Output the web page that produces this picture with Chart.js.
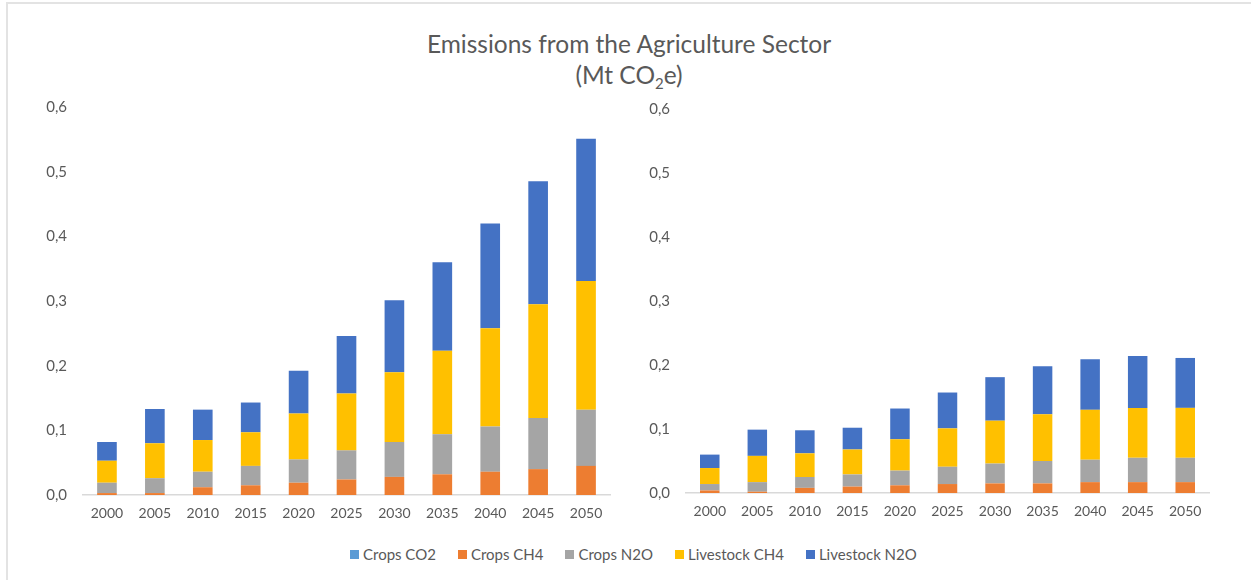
<!DOCTYPE html>
<html>
<head>
<meta charset="utf-8">
<script src="https://cdn.jsdelivr.net/npm/chart.js@4.4.1/dist/chart.umd.min.js"></script>
<style>
  html, body { margin: 0; padding: 0; background: #fff; }
  body { width: 1251px; height: 580px; position: relative; overflow: hidden; font-family: Lato, sans-serif; color: #595959; }
  #frame { position: absolute; left: 6px; top: 2px; width: 1260px; height: 600px; border-top: 2px solid #e3e3e3; border-left: 2px solid #e3e3e3; }
  #title { position: absolute; left: 0; width: 1258px; top: 28px; text-align: center; font-size: 24.5px; line-height: 31px; }
  #title sub { font-size: 15px; vertical-align: -5px; line-height: 0; }
  .box { position: absolute; width: 625px; }
  #legend { position: absolute; left: 350px; top: 545px; display: flex; font-size: 15px; white-space: nowrap; }
  #legend span.item { display: flex; align-items: center; margin-right: 22px; }
  #legend i { display: inline-block; width: 9px; height: 9px; margin-right: 4px; }
</style>
</head>
<body>
<div id="frame"></div>
<div id="title">Emissions from the Agriculture Sector<br>(Mt CO<sub>2</sub>e)</div>
<div class="box" style="left:0; top:82px; height:448px"><canvas id="leftChart"></canvas></div>
<div class="box" style="left:626px; top:84px; height:446px"><canvas id="rightChart"></canvas></div>
<div id="legend"></div>
<script>
/*--Data--*/
var years = ["2000", "2005", "2010", "2015", "2020", "2025", "2030", "2035", "2040", "2045", "2050"];
var seriesNames = ["Crops CO2", "Crops CH4", "Crops N2O", "Livestock CH4", "Livestock N2O"];
var seriesColors = ["#5B9BD5", "#ED7D31", "#A5A5A5", "#FFC000", "#4472C4"];
var yTicks = [0, 0.1, 0.2, 0.3, 0.4, 0.5, 0.6];

// left panel
var leftCropsCO2     = [0, 0, 0, 0, 0, 0, 0, 0, 0, 0, 0];
var leftCropsCH4     = [0.003, 0.003, 0.012, 0.015, 0.019, 0.024, 0.028, 0.032, 0.036, 0.040, 0.045];
var leftCropsN2O     = [0.016, 0.023, 0.024, 0.030, 0.036, 0.045, 0.054, 0.062, 0.070, 0.079, 0.087];
var leftLivestockCH4 = [0.034, 0.054, 0.049, 0.052, 0.071, 0.088, 0.108, 0.129, 0.152, 0.176, 0.199];
var leftLivestockN2O = [0.029, 0.053, 0.047, 0.046, 0.066, 0.089, 0.111, 0.137, 0.162, 0.190, 0.220];

// right panel
var rightCropsCO2     = [0, 0, 0, 0, 0, 0, 0, 0, 0, 0, 0];
var rightCropsCH4     = [0.004, 0.002, 0.008, 0.010, 0.012, 0.014, 0.015, 0.015, 0.017, 0.017, 0.017];
var rightCropsN2O     = [0.010, 0.015, 0.017, 0.019, 0.023, 0.027, 0.031, 0.035, 0.035, 0.038, 0.038];
var rightLivestockCH4 = [0.025, 0.041, 0.037, 0.039, 0.049, 0.060, 0.067, 0.073, 0.078, 0.078, 0.078];
var rightLivestockN2O = [0.021, 0.041, 0.036, 0.034, 0.048, 0.056, 0.068, 0.075, 0.079, 0.081, 0.078];
/*--------*/

/*--Charts--*/
function buildDatasets(values) {
  return values.map(function(v, i) {
    return {
      label: seriesNames[i],
      data: v,
      backgroundColor: seriesColors[i],
      borderWidth: 0,
      barPercentage: 0.41,
      categoryPercentage: 1
    };
  });
}

function makeChart(id, values, yWidth, xHeight, pad) {
  return new Chart(id, {
    type: 'bar',
    data: { labels: years, datasets: buildDatasets(values) },
    options: {
      responsive: true,
      maintainAspectRatio: false,
      animation: false,
      layout: { padding: pad },
      plugins: { legend: { display: false }, tooltip: { enabled: false } },
      scales: {
        x: {
          stacked: true,
          grid: { display: false, drawTicks: false },
          border: { color: '#d9d9d9', width: 1.5 },
          ticks: { color: '#595959', font: { family: 'Lato', size: 14 }, padding: 10, maxRotation: 0 },
          afterFit: function(s) { s.height = xHeight; }
        },
        y: {
          stacked: true,
          min: yTicks[0],
          max: yTicks[yTicks.length - 1],
          grid: { display: false, drawTicks: false },
          border: { display: false },
          afterBuildTicks: function(s) { s.ticks = yTicks.map(function(v) { return { value: v }; }); },
          ticks: {
            color: '#595959',
            font: { family: 'Lato', size: 15 },
            padding: 16,
            callback: function(v) { return v.toFixed(1).replace('.', ','); }
          },
          afterFit: function(s) { s.width = yWidth; }
        }
      }
    }
  });
}

makeChart('leftChart',
  [leftCropsCO2, leftCropsCH4, leftCropsN2O, leftLivestockCH4, leftLivestockN2O],
  83, 35, { top: 9, right: 15, left: 0, bottom: 0 });

makeChart('rightChart',
  [rightCropsCO2, rightCropsCH4, rightCropsN2O, rightLivestockCH4, rightLivestockN2O],
  60, 37, { top: 11, right: 42, left: 0, bottom: 0 });

// shared legend under both panels
var legend = document.getElementById('legend');
seriesNames.forEach(function(name, i) {
  var item = document.createElement('span');
  item.className = 'item';
  var sw = document.createElement('i');
  sw.style.background = seriesColors[i];
  item.appendChild(sw);
  item.appendChild(document.createTextNode(name));
  legend.appendChild(item);
});
/*----------*/
</script>
</body>
</html>
